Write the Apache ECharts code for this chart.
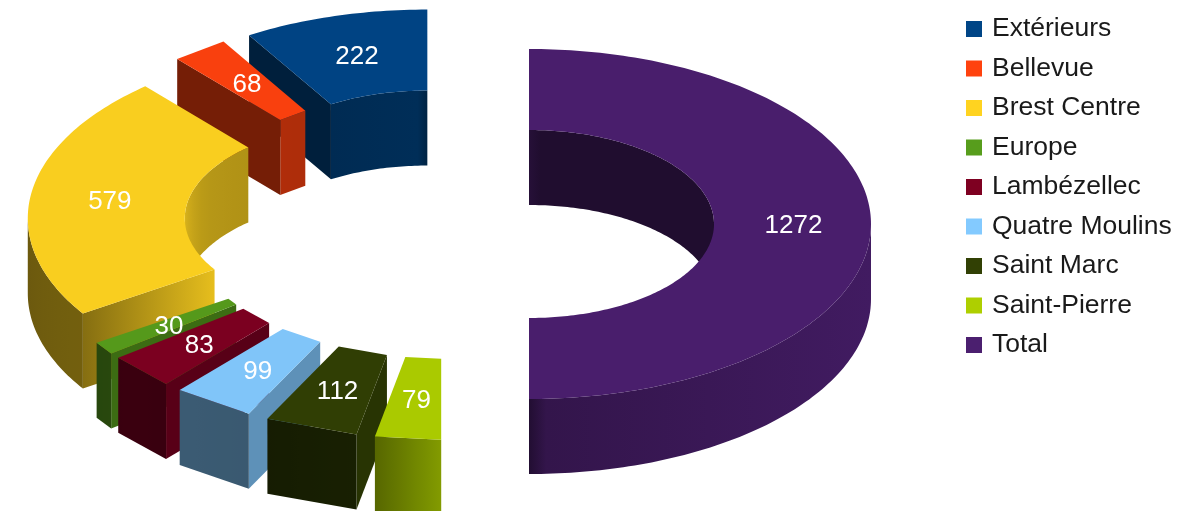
<!DOCTYPE html>
<html><head><meta charset="utf-8">
<style>html,body{margin:0;padding:0;background:#fff}#c{width:1180px;height:511px;filter:blur(0.5px)}</style>
<script src="https://cdn.jsdelivr.net/npm/echarts@6/dist/echarts.min.js"></script>
</head><body><div id="c"></div>
<script>
const categories = ['Extérieurs','Bellevue','Brest Centre','Europe','Lambézellec','Quatre Moulins','Saint Marc','Saint-Pierre','Total'];
const values = [222,68,579,30,83,99,112,79,1272];
const colors = ['#004586','#ff420e','#ffd320','#579d1c','#7e0021','#83caff','#314004','#aecf00','#4b1f6f'];

// Projection of the exploded ring
const CX = 449, CY = 224, RX = 342, RY = 175, IRX = 185, IRY = 94, H = 75, DX = 80, DY = 41;
const FONT = '"Liberation Sans", Arial, sans-serif';

const sum = values.reduce((a,b)=>a+b,0);
const rad = d => d*Math.PI/180;
const ranges = []; { let acc = 0; values.forEach(v => { ranges.push([acc/sum*360,(acc+v)/sum*360]); acc += v; }); }

function rgb(hex){ return [1,3,5].map(i=>parseInt(hex.substr(i,2),16)); }
function mul(hex,f){ const c=rgb(hex).map(v=>Math.round(Math.min(255,v*f))); return `rgb(${c[0]},${c[1]},${c[2]})`; }

// brightness by the compass direction of a wall's normal
const shadeTable = [[0,.9],[90,.87],[117,.72],[147,.68],[175,.72],[180,.75],[191,.5],[207,.44],[229,.46],[270,.42],[360,.42]];
function shade(c){
  c=((c%360)+360)%360;
  for(let i=1;i<shadeTable.length;i++){
    const [a,s]=shadeTable[i-1],[b,t]=shadeTable[i];
    if(c<=b) return s+(t-s)*(c-a)/(b-a);
  }
  return .42;
}
function centre(i){
  const m=rad((ranges[i][0]+ranges[i][1])/2);
  return [CX-DX*Math.sin(m), CY-DY*Math.cos(m)];
}
function pt(c,a,rx,ry,dy){ return [c[0]-rx*Math.sin(rad(a)), c[1]-ry*Math.cos(rad(a))+(dy||0)]; }
function arc(c,a0,a1,rx,ry,dy){
  const sweep=Math.abs(a1-a0);
  const n=sweep<20?1:Math.ceil(sweep);   // narrow slices have straight edges in the source
  const out=[];
  for(let k=0;k<=n;k++) out.push(pt(c,a0+(a1-a0)*k/n,rx,ry,dy));
  return out;
}
function hGrad(stops){
  stops.sort((p,q)=>p.offset-q.offset);
  return {type:'linear',x:0,y:0,x2:1,y2:0,colorStops:stops};
}
function wall(color,c,a0,a1,rx,ry,compassOf,override){
  const top=arc(c,a0,a1,rx,ry,0), bot=arc(c,a1,a0,rx,ry,H);
  const xs=top.map(p=>p[0]);const mn=Math.min(...xs),mx=Math.max(...xs);
  let stops=[];
  if(override){ stops=override.map(s=>({offset:s[0],color:mul(color,s[1])})); }
  else { for(let k=0;k<=8;k++){const a=a0+(a1-a0)*k/8;const x=pt(c,a,rx,ry)[0];
    stops.push({offset:mx>mn?(x-mn)/(mx-mn):0,color:mul(color,shade(compassOf(a)))});} }
  return {type:'polygon',shape:{points:top.concat(bot)},style:{fill:hGrad(stops)},silent:true};
}
function cut(color,c,a,compass,override){
  const p=pt(c,a,IRX,IRY),q=pt(c,a,RX,RY);
  const s=shade(compass);
  const ov=override||[[0,s],[1,s]];
  return {type:'polygon',shape:{points:[p,q,[q[0],q[1]+H],[p[0],p[1]+H]]},
    style:{fill:hGrad(ov.map(o=>({offset:o[0],color:mul(color,o[1])}))),stroke:null},silent:true};
}
const outerOverride={8:[[0,.45],[.05,.68],[1,.87]]};
const innerOverride={8:[[0,.5],[.06,.42],[1,.42]],0:[[0,.62],[.9,.66],[1,.5]]};
const cutOverride={2:[[0,.52],[1,.9]]};

function renderSlice(i,api){
  const [a0,a1]=ranges[i];
  const color=colors[i], c=centre(i), kids=[];
  // inner wall (far side of hole)
  const inA=[[0,90],[270,360]];
  inA.forEach(([s,e])=>{const f=Math.max(a0,s),t=Math.min(a1,e);
    if(t>f) kids.push(wall(color,c,f,t,IRX,IRY,a=>180-a,innerOverride[i]));});
  // cut faces
  const cs=(360-a0+90)%360, ce=(360-a1-90+720)%360;
  if(Math.cos(rad(cs))<-1e-3) kids.push(cut(color,c,a0,cs,cutOverride[i]));
  if(Math.cos(rad(ce))<-1e-3) kids.push(cut(color,c,a1,ce,cutOverride[i]));
  // outer wall (near side)
  {const f=Math.max(a0,90),t=Math.min(a1,270);
    if(t>f) kids.push(wall(color,c,f,t,RX,RY,a=>360-a,outerOverride[i]));}
  // top face
  const poly=arc(c,a0,a1,RX,RY).concat(arc(c,a1,a0,IRX,IRY));
  kids.push({type:'polygon',shape:{points:poly},style:{fill:mul(color,.975)},silent:true});
  return {type:'group',children:kids};
}
function renderLabel(params,api){
  const i=params.dataIndex, m=(ranges[i][0]+ranges[i][1])/2, c=centre(i);
  const p=pt(c,m,(RX+IRX)/2,(RY+IRY)/2);
  return {type:'text',x:p[0]+1,y:p[1]+2,silent:true,style:{text:String(api.value(0)),fill:'#fff',
    font:'26px '+FONT,textAlign:'center',textVerticalAlign:'middle'}};
}
const drawOrder=[0,1,2,8,3,4,5,6,7];
const series=categories.map((name,i)=>({
  type:'custom',name,coordinateSystem:'none',z:2+drawOrder.indexOf(i),
  itemStyle:{color:colors[i]},
  renderItem:(p,api)=>renderSlice(i,api),
  data:[{name,value:[values[i]]}],silent:true,animation:false
}));
series.push({type:'custom',name:'labels',coordinateSystem:'none',z:30,renderItem:renderLabel,
  data:values.map(v=>({value:[v]})),silent:true,animation:false});

const chart=echarts.init(document.getElementById('c'),null,{renderer:'canvas'});
chart.setOption({
  animation:false,backgroundColor:'#fff',tooltip:{show:false},
  legend:{data:categories,orient:'vertical',left:966,top:11,itemWidth:16,itemHeight:16,itemGap:3.5,
    icon:'rect',selectedMode:false,padding:0,
    textStyle:{fontFamily:FONT,fontSize:26.5,color:'#1a1a1a',lineHeight:27.5,padding:[8.5,0,0,5]}},
  series
});
</script></body></html>
